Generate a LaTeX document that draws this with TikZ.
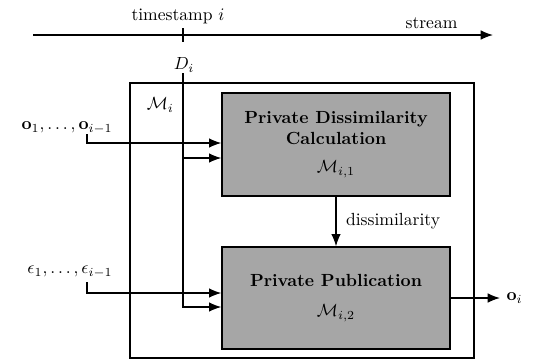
\documentclass[tikz,border=0pt]{standalone}
\usetikzlibrary{arrows.meta,positioning}
\begin{document}
\begin{tikzpicture}[x=0.02cm,y=-0.02cm,thick,>={Latex[length=7pt,width=5.5pt]},
    block/.style={draw, fill=gray!70, minimum width=4.56cm, minimum height=2.06cm, align=center, font=\bfseries},
    wire/.style={->}]
  \useasboundingbox (0,0) rectangle (536,360);
  % time axis
  \coordinate (sstart) at (33,35);
  \coordinate (send) at (493,35);
  \coordinate (tick) at (183,35);
  \draw[wire] (sstart) -- (send);
  \draw ([yshift=0.14cm]tick) -- ([yshift=-0.14cm]tick);
  \node[above=0.1cm of tick, xshift=-0.1cm] (ts) {timestamp $i$};
  \node[anchor=base east] (st) at (464,28) {stream};
  % mechanism
  \node[draw, minimum width=6.88cm, minimum height=5.5cm] (mech) at (302,220.5) {};
  \node[anchor=north west] (mlabel) at ([xshift=0.22cm,yshift=-0.18cm]mech.north west) {$\mathcal{M}_i$};
  \node[block] (calc) at (336,144.5) {Private Dissimilarity\\Calculation\\[4pt]\mdseries$\mathcal{M}_{i,1}$};
  \node[block, minimum height=2.04cm] (pub) at (336,298) {Private Publication\\[5pt]\mdseries$\mathcal{M}_{i,2}$};
  \draw[wire] (calc) -- node[right=2pt] {dissimilarity} (pub);
  % data input
  \node (di) at (184,65) {$D_i$};
  \coordinate (dtop) at (183,73);
  \coordinate (cin) at ([yshift=-0.27cm]calc.west);
  \coordinate (pin) at ([yshift=-0.18cm]pub.west);
  \draw[wire] (dtop) |- (pin);
  \draw[wire] (dtop |- cin) -- (cin);
  % previous outputs and budgets
  \node (olist) at (67,128) {$\mathbf{o}_1,\ldots,\mathbf{o}_{i-1}$};
  \coordinate (ostart) at (87,134);
  \draw[wire] (ostart) |- ([yshift=0.03cm]calc.west);
  \node (elist) at (70,272) {$\epsilon_1,\ldots,\epsilon_{i-1}$};
  \coordinate (estart) at (87,282);
  \draw[wire] (estart) |- ([yshift=0.1cm]pub.west);
  % output
  \node[anchor=west] (oi) at (500,298) {$\mathbf{o}_i$};
  \draw[wire] (pub.east) -- (oi.west);
\end{tikzpicture}
\end{document}
